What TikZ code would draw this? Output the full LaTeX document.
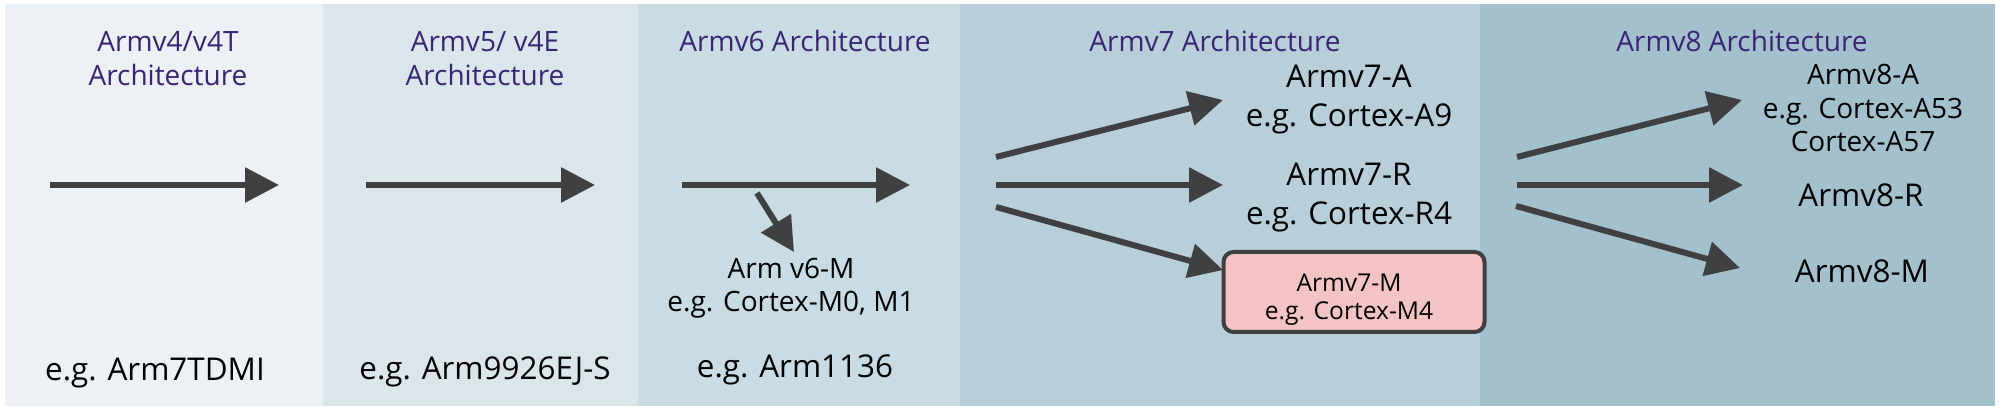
\documentclass[tikz,border=0pt]{standalone}
\usepackage{fontspec}
\setmainfont{Open Sans}
\usetikzlibrary{arrows.meta}
\definecolor{pA}{HTML}{EBF1F4}
\definecolor{pB}{HTML}{DBE6EB}
\definecolor{pC}{HTML}{C9DBE3}
\definecolor{pD}{HTML}{B8CFDA}
\definecolor{pE}{HTML}{A3C0CD}
\definecolor{ttl}{HTML}{3A2476}
\definecolor{arr}{HTML}{404040}
\definecolor{pinkbox}{HTML}{F4C4C4}
\begin{document}
\begin{tikzpicture}[x=0.5pt,y=-0.5pt,
  title/.style={font=\fontsize{14}{17}\selectfont, text=ttl, align=center, anchor=base, inner sep=0pt},
  body/.style={font=\fontsize{15.7}{19.5}\selectfont, align=center, anchor=base, inner sep=0pt},
  small/.style={font=\fontsize{14}{16.8}\selectfont, align=center, anchor=base, inner sep=0pt},
  tiny/.style={font=\fontsize{12.3}{14}\selectfont, align=center, anchor=base, inner sep=0pt},
  conn/.style={color=arr, line width=3pt, -{Triangle[length=17pt,width=17pt]}},
  mbox/.style={draw=arr, fill=pinkbox, line width=2pt, rounded corners=5pt, minimum width=130.5pt, minimum height=40pt, inner sep=0pt}
]
\useasboundingbox (0,0) rectangle (2004,410);
\fill[white] (0,0) rectangle (2004,410);
% panels
\fill[pA] (5,4) rectangle (323,406);
\fill[pB] (323,4) rectangle (638,406);
\fill[pC] (638,4) rectangle (960,406);
\fill[pD] (960,4) rectangle (1480,406);
\fill[pE] (1480,4) rectangle (1995,406);
% titles (base anchor = baseline of last line)
\node[title] (t1) at (168,86) {Armv4/v4T\\Architecture};
\node[title] (t2) at (485,86) {Armv5/ v4E\\Architecture};
\node[title] (t3) at (805,52) {Armv6 Architecture};
\node[title] (t4) at (1215,52) {Armv7 Architecture};
\node[title] (t5) at (1742,52) {Armv8 Architecture};
% examples
\node[body] (e1) at (155,381) {e.g. Arm7TDMI};
\node[body] (e2) at (485,380) {e.g. Arm9926EJ-S};
\node[body] (e3) at (795,378) {e.g. Arm1136};
\node[small] (v6m) at (791,312) {Arm v6-M\\e.g. Cortex-M0, M1};
\node[body] (v7a) at (1349,127) {Armv7-A\\e.g. Cortex-A9};
\node[body] (v7r) at (1349,225) {Armv7-R\\e.g. Cortex-R4};
\node[mbox] (v7mbox) at (1354,292) {};
\node[tiny] (v7m) at (1349,320) {Armv7-M\\e.g. Cortex-M4};
\node[small] (v8a) at (1863,152) {Armv8-A\\e.g. Cortex-A53\\Cortex-A57};
\node[body] (v8r) at (1861,207) {Armv8-R};
\node[body] (v8m) at (1862,283) {Armv8-M};
% arrow end points
\coordinate (a1s) at (50,185);   \coordinate (a1e) at (279,185);
\coordinate (a2s) at (366,185);  \coordinate (a2e) at (595,185);
\coordinate (a3s) at (682,185);  \coordinate (a3e) at (910,185);
\coordinate (a6s) at (757,193);  \coordinate (a6e) at (794,252);
\coordinate (b1s) at (996,157);  \coordinate (b1e) at (1223,100);
\coordinate (b2s) at (996,185);  \coordinate (b2e) at (1223,185);
\coordinate (b3s) at (996,207);  \coordinate (b3e) at (1223,270);
\coordinate (c1s) at (1517,157); \coordinate (c1e) at (1742,100);
\coordinate (c2s) at (1517,185); \coordinate (c2e) at (1743,185);
\coordinate (c3s) at (1516,206); \coordinate (c3e) at (1740,268);
\draw[conn] (a1s) -- (a1e);
\draw[conn] (a2s) -- (a2e);
\draw[conn] (a3s) -- (a3e);
\draw[conn] (a6s) -- (a6e);
\draw[conn] (b1s) -- (b1e);
\draw[conn] (b2s) -- (b2e);
\draw[conn] (b3s) -- (b3e);
\draw[conn] (c1s) -- (c1e);
\draw[conn] (c2s) -- (c2e);
\draw[conn] (c3s) -- (c3e);
\end{tikzpicture}
\end{document}
